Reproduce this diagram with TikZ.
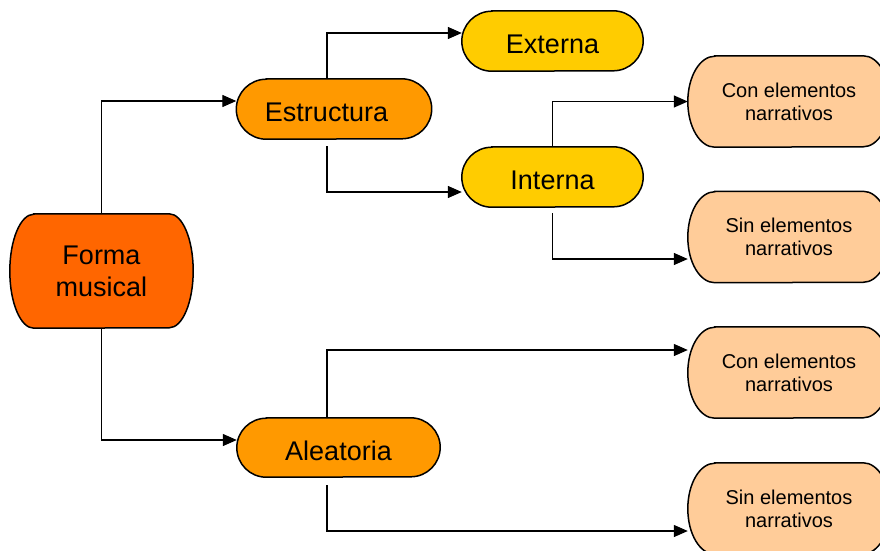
\documentclass[tikz,border=0pt]{standalone}
\usepackage{fontspec}
\setmainfont{Liberation Sans}
\usetikzlibrary{arrows.meta,backgrounds}

\definecolor{cRoot}{HTML}{FF6600}
\definecolor{cMid}{HTML}{FF9900}
\definecolor{cSub}{HTML}{FFCC00}
\definecolor{cLeaf}{HTML}{FFCC99}

% Outline of a box with half-elliptic ends, built on a node's corners
\newcommand\pillpath[3]{%
  ([xshift=#2]#1.north west) -- ([xshift=-#2]#1.north east)
  arc[start angle=90, end angle=-90, x radius=#2, y radius=#3]
  -- ([xshift=#2]#1.south west)
  arc[start angle=270, end angle=90, x radius=#2, y radius=#3] -- cycle}
% Text set slightly lower (and optionally left) without changing its box
\newcommand\lowtext[2][0pt]{\raisebox{-3pt}[\height][\depth]{\kern-#1#2\kern#1}}

\tikzset{
  box/.style={inner sep=0pt, align=center},
  bigtext/.style={font=\fontsize{27}{32}\selectfont},
  smalltext/.style={font=\fontsize{20}{23}\selectfont},
  outline/.style={draw=black, line width=1.5pt},
  link/.style={draw=black, line width=1.3pt,
    -{Triangle[length=14pt,width=12pt]}},
}

\begin{document}
\begin{tikzpicture}[x=1pt, y=-1pt]
\useasboundingbox (0,0) rectangle (880,550);

% nodes (text only; outlines are drawn behind them)
\node[box, bigtext, minimum width=183pt, minimum height=114pt] (forma) at (101.5,271) {Forma\\musical};
\node[box, bigtext, minimum width=195pt, minimum height=60pt] (estr) at (334,109) {\lowtext[7.5pt]{Estructura}};
\node[box, bigtext, minimum width=203pt, minimum height=59pt] (alea) at (338.5,447.5) {\lowtext{Aleatoria}};
\node[box, bigtext, minimum width=181pt, minimum height=60pt] (ext) at (552.5,41) {\lowtext{Externa}};
\node[box, bigtext, minimum width=181pt, minimum height=60pt] (int) at (552.5,177) {\lowtext{Interna}};
\node[box, smalltext, minimum width=202pt, minimum height=91pt] (con1) at (789,101.5) {Con elementos\\narrativos};
\node[box, smalltext, minimum width=202pt, minimum height=91pt] (sin1) at (789,237) {Sin elementos\\narrativos};
\node[box, smalltext, minimum width=202pt, minimum height=91pt] (con2) at (789,372.5) {Con elementos\\narrativos};
\node[box, smalltext, minimum width=202pt, minimum height=91pt] (sin2) at (789,508.5) {Sin elementos\\narrativos};

\begin{scope}[on background layer]
  \path[outline, fill=cRoot] \pillpath{forma}{24pt}{57pt};
  \path[outline, fill=cMid]  \pillpath{estr}{30pt}{30pt};
  \path[outline, fill=cMid]  \pillpath{alea}{29.5pt}{29.5pt};
  \path[outline, fill=cSub]  \pillpath{ext}{30pt}{30pt};
  \path[outline, fill=cSub]  \pillpath{int}{30pt}{30pt};
  \foreach \n in {con1,sin1,con2,sin2}
    \path[outline, fill=cLeaf] \pillpath{\n}{27pt}{45.5pt};
\end{scope}

% connectors
\draw[link] (forma.north) |- ([yshift=8pt]estr.west);
\draw[link] (forma.south) |- ([yshift=7.5pt]alea.west);
\draw[link] ([xshift=-7pt]estr.north) |- ([yshift=8pt]ext.west);
\draw[link] ([xshift=-7pt,yshift=-7pt]estr.south) |- ([yshift=-15pt]int.west);
\draw[link] (int.north) |- (con1.west);
\draw[link] ([yshift=-6pt]int.south) |- ([yshift=-22pt]sin1.west);
\draw[link] ([xshift=-11.5pt]alea.north) |- ([yshift=22.5pt]con2.west);
\draw[link] ([xshift=-11.5pt,yshift=-8pt]alea.south) |- ([yshift=-22.5pt]sin2.west);
\end{tikzpicture}
\end{document}
